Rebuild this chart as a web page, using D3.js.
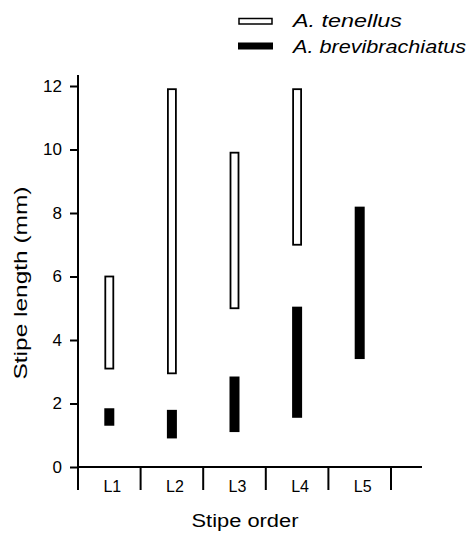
<!DOCTYPE html>
<html>
<head>
<meta charset="utf-8">
<script src="https://cdn.jsdelivr.net/npm/d3@7"></script>
<style>
  body { margin: 0; background: #fff; }
  text { font-family: "Liberation Sans", Arial, sans-serif; fill: #000; }
</style>
</head>
<body>
<script>
// stipe order categories
var categories = ["L1", "L2", "L3", "L4", "L5"];
// A. tenellus range (mm), no value for L5
var tenellusMin = [3.1, 2.95, 5.0, 7.0, null];
var tenellusMax = [6.0, 11.9, 9.9, 11.9, null];
// A. brevibrachiatus range (mm)
var brevMin = [1.3, 0.9, 1.1, 1.55, 3.4];
var brevMax = [1.85, 1.8, 2.85, 5.05, 8.2];
var yTicks = [0, 2, 4, 6, 8, 10, 12];

var svg = d3.select("body")
  .append("svg")
    .attr("width", 467)
    .attr("height", 533);

var x = d3.scaleBand().domain(categories).range([78, 391]).paddingInner(0).paddingOuter(0);
var y = d3.scaleLinear().domain([0, 12]).range([467, 86]);

// y axis
var yAxis = svg.append("g")
  .attr("transform", "translate(78,0)")
  .call(d3.axisLeft(y).tickValues(yTicks).tickSize(8).tickPadding(8).tickFormat(d3.format("d")));
yAxis.select(".domain").remove();
yAxis.selectAll("line").attr("stroke", "#000").attr("stroke-width", 2);
yAxis.selectAll("text").attr("font-size", 17);
svg.append("line")
  .attr("x1", 78).attr("x2", 78)
  .attr("y1", 75).attr("y2", 490)
  .attr("stroke", "#000").attr("stroke-width", 2);

// x axis
var xAxis = svg.append("g")
  .attr("transform", "translate(0,467)")
  .call(d3.axisBottom(x).tickSize(0).tickPadding(14));
xAxis.select(".domain").remove();
xAxis.selectAll("text").attr("font-size", 16).attr("dx", 3);
svg.append("line")
  .attr("x1", 78).attr("x2", 422)
  .attr("y1", 467).attr("y2", 467)
  .attr("stroke", "#000").attr("stroke-width", 2);
// boundary ticks between stipe orders
svg.append("g").selectAll("line")
  .data(categories)
  .join("line")
    .attr("x1", function(d) { return x(d) + x.bandwidth(); })
    .attr("x2", function(d) { return x(d) + x.bandwidth(); })
    .attr("y1", 467).attr("y2", 490)
    .attr("stroke", "#000").attr("stroke-width", 2);

// bars
var bw = 9;
var tenData = categories.map(function(c, i) { return {c: c, lo: tenellusMin[i], hi: tenellusMax[i]}; })
  .filter(function(d) { return d.lo != null; });
var brevData = categories.map(function(c, i) { return {c: c, lo: brevMin[i], hi: brevMax[i]}; });

svg.append("g").selectAll("rect")
  .data(tenData)
  .join("rect")
    .attr("x", function(d) { return x(d.c) + x.bandwidth() / 2 - bw / 2 + 0.5; })
    .attr("y", function(d) { return y(d.hi); })
    .attr("width", bw - 1)
    .attr("height", function(d) { return y(d.lo) - y(d.hi); })
    .attr("fill", "#fff")
    .attr("stroke", "#000")
    .attr("stroke-width", 1.8);

svg.append("g").selectAll("rect")
  .data(brevData)
  .join("rect")
    .attr("x", function(d) { return x(d.c) + x.bandwidth() / 2 - 5; })
    .attr("y", function(d) { return y(d.hi); })
    .attr("width", 10)
    .attr("height", function(d) { return y(d.lo) - y(d.hi); })
    .attr("fill", "#000");

// axis titles
svg.append("text")
  .attr("transform", "translate(27,283) rotate(-90)")
  .attr("text-anchor", "middle")
  .attr("font-size", 19)
  .attr("textLength", 193)
  .attr("lengthAdjust", "spacingAndGlyphs")
  .text("Stipe length (mm)");
svg.append("text")
  .attr("x", 245).attr("y", 527)
  .attr("text-anchor", "middle")
  .attr("font-size", 18)
  .attr("textLength", 107)
  .attr("lengthAdjust", "spacingAndGlyphs")
  .text("Stipe order");

// legend
var legend = svg.append("g");
legend.append("rect")
  .attr("x", 239).attr("y", 18.5).attr("width", 33).attr("height", 5.5)
  .attr("fill", "#fff").attr("stroke", "#000").attr("stroke-width", 1.5);
legend.append("text")
  .attr("x", 293).attr("y", 27)
  .attr("font-size", 18).attr("font-style", "italic")
  .attr("textLength", 109).attr("lengthAdjust", "spacingAndGlyphs")
  .text("A. tenellus");
legend.append("rect")
  .attr("x", 238).attr("y", 42.5).attr("width", 35).attr("height", 7)
  .attr("fill", "#000");
legend.append("text")
  .attr("x", 293).attr("y", 52.5)
  .attr("font-size", 18).attr("font-style", "italic")
  .attr("textLength", 173).attr("lengthAdjust", "spacingAndGlyphs")
  .text("A. brevibrachiatus");
</script>
</body>
</html>
